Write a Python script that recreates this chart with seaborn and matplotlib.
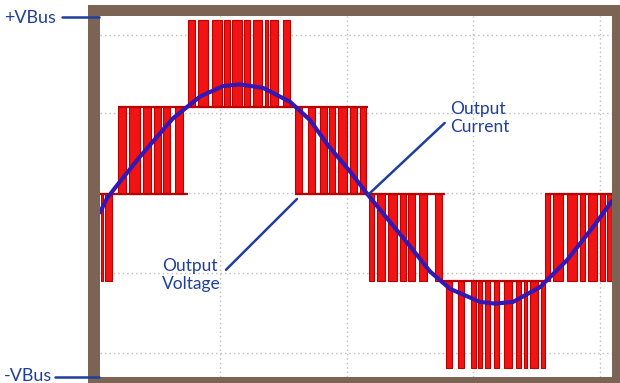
import matplotlib
matplotlib.use("Agg")
import matplotlib.pyplot as plt
import seaborn as sns
import numpy as np
import pandas as pd
from matplotlib.patches import Rectangle
from matplotlib.lines import Line2D

# ---------------- data ----------------
# time axis units (0..512), output levels in multiples of one DC-bus step
current_t = [0, 7, 15, 40, 73, 100, 123, 140, 163, 190, 210, 228, 250, 268,
             280, 310, 330, 350, 380, 395, 413, 440, 467, 493, 512]
current_v = [-0.21, -0.05, 0.07, 0.43, 0.87, 1.12, 1.24, 1.26, 1.22, 1.06, 0.85,
             0.56, 0.26, -0.01, -0.18, -0.60, -0.89, -1.09, -1.24, -1.26, -1.24,
             -1.07, -0.76, -0.38, -0.08]

# voltage pulses: start, end, low level, high level
pulse_start = [1, 5,
               18, 29, 43, 54, 63, 75,
               88, 98, 112, 124, 132, 144, 153, 165, 170, 183,
               195, 208, 220, 229, 238, 250, 260,
               269, 277, 288, 300, 308, 319, 335,
               346, 358, 371, 378, 385, 394, 404, 416, 424, 430, 441,
               445, 453, 467, 480, 488, 500, 507]
pulse_end = [3, 12,
             26, 40, 51, 61, 70, 83,
             95, 108, 122, 130, 142, 150, 162, 168, 178, 190,
             202, 215, 227, 235, 247, 257, 266,
             274, 285, 297, 306, 315, 327, 342,
             352, 364, 376, 382, 390, 399, 412, 421, 427, 438, 445,
             450, 463, 477, 485, 497, 505, 512]
pulse_low = [-1, -1,
             0, 0, 0, 0, 0, 0,
             1, 1, 1, 1, 1, 1, 1, 1, 1, 1,
             0, 0, 0, 0, 0, 0, 0,
             -1, -1, -1, -1, -1, -1, -1,
             -2, -2, -2, -2, -2, -2, -2, -2, -2, -2, -2,
             -1, -1, -1, -1, -1, -1, -1]
pulse_high = [0, 0,
              1, 1, 1, 1, 1, 1,
              2, 2, 2, 2, 2, 2, 2, 2, 2, 2,
              1, 1, 1, 1, 1, 1, 1,
              0, 0, 0, 0, 0, 0, 0,
              -1, -1, -1, -1, -1, -1, -1, -1, -1, -1, -1,
              0, 0, 0, 0, 0, 0, 0]

# continuous level segments of the voltage trace
seg_start = [0, 18, 195, 343, 445]
seg_end = [88, 268, 345, 447, 512]
seg_level = [0, 1, 0, -1, 0]

# oscilloscope grid
grid_x = [120, 247, 373, 500]
grid_y = [1.83, 0.93, 0.01, -0.91, -1.83]

# ---------------- style ----------------
sns.set_style("white")
plt.rcParams['font.family'] = ['Lato', 'DejaVu Sans']

W, H = 620, 383
def fx(px):
    return px / W
def fy(py):
    return 1 - py / H

navy = '#1f3f9c'
brown = '#7b6453'
red = '#f01414'
dark_red = '#bc0000'
blue = '#3418b4'

fig = plt.figure(figsize=(6.2, 3.83), dpi=100)
fig.patch.set_facecolor('white')

# brown oscilloscope frame
fig.add_artist(Rectangle((fx(88), fy(383)), fx(620) - fx(88), fy(5) - fy(383),
                         transform=fig.transFigure, facecolor=brown,
                         edgecolor='none', zorder=-1))

ax = fig.add_axes([fx(100), fy(377), fx(612) - fx(100), fy(16) - fy(377)])
ax.set_facecolor('white')

# grid
ax.set_xticks(grid_x)
ax.set_yticks(grid_y)
ax.grid(True, color='#bdbdbd', linestyle=(0, (1, 2.2)), linewidth=1.0)
ax.tick_params(length=0, labelbottom=False, labelleft=False)
for s in ax.spines.values():
    s.set_visible(False)

# voltage pulses
p = pd.DataFrame({'start': pulse_start, 'end': pulse_end,
                  'low': pulse_low, 'high': pulse_high})
ax.bar(p['start'], p['high'] - p['low'], width=p['end'] - p['start'],
       bottom=p['low'], align='edge', color=red, edgecolor=dark_red,
       linewidth=0.8, zorder=2)
ax.hlines(seg_level, seg_start, seg_end, color=dark_red, linewidth=1.6, zorder=2.5)

# output current
cur = pd.DataFrame({'t': current_t, 'i': current_v})
sns.lineplot(data=cur, x='t', y='i', ax=ax, color=blue, linewidth=3.0,
             sort=False, estimator=None, zorder=3)

ax.set_xlim(0, 512)
ax.set_ylim(-2.103, 2.046)
ax.set_xlabel('')
ax.set_ylabel('')

# annotations
ax.annotate("Output\nCurrent", xy=(268, -0.01), xytext=(350, 0.874),
            textcoords='data', ha='left', va='center', color=navy,
            fontsize=12.5, linespacing=1.15, zorder=5,
            arrowprops=dict(arrowstyle='-', color=navy, lw=1.8,
                            relpos=(0, 0.5), shrinkA=2, shrinkB=0))
ax.annotate("Output\nVoltage", xy=(197, -0.057), xytext=(62, -0.931),
            textcoords='data', ha='left', va='center', color=navy,
            fontsize=12.5, linespacing=1.15, zorder=5,
            arrowprops=dict(arrowstyle='-', color=navy, lw=1.8,
                            relpos=(1, 0.5), shrinkA=2, shrinkB=0))

# bus labels
fig.text(fx(4), fy(18), "+VBus", ha='left', va='center', fontsize=13, color=navy)
fig.add_artist(Line2D([fx(62), fx(99)], [fy(17), fy(17)], transform=fig.transFigure,
                      color=navy, linewidth=1.8, zorder=5))
fig.text(fx(4), fy(376), "-VBus", ha='left', va='center', fontsize=13, color=navy)
fig.add_artist(Line2D([fx(55), fx(99)], [fy(377), fy(377)], transform=fig.transFigure,
                      color=navy, linewidth=1.8, zorder=5))

fig.savefig('out.png', dpi=100)
